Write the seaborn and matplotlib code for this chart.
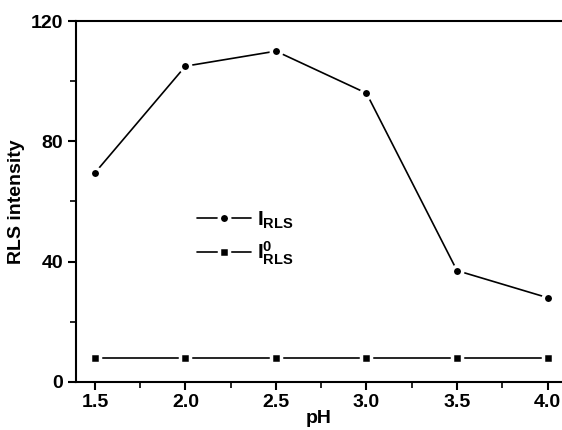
import numpy as np
import pandas as pd
import seaborn as sns
import matplotlib.pyplot as plt
from matplotlib.ticker import MultipleLocator

ph = [1.5, 2.0, 2.5, 3.0, 3.5, 4.0]
i_rls = [69.5, 105, 110, 96, 37, 28]
i0_rls = [8, 8, 8, 8, 8, 8]

df = pd.DataFrame({'pH': ph, 'IRLS': i_rls, 'I0RLS': i0_rls})

sns.set_style('ticks')
plt.rcParams['font.family'] = ['Liberation Sans', 'DejaVu Sans']
plt.rcParams['font.weight'] = 'bold'
plt.rcParams['text.color'] = 'black'
plt.rcParams['axes.labelcolor'] = 'black'
plt.rcParams['xtick.color'] = 'black'
plt.rcParams['ytick.color'] = 'black'
plt.rcParams['mathtext.fontset'] = 'custom'
plt.rcParams['mathtext.rm'] = 'Liberation Sans:bold'
plt.rcParams['mathtext.it'] = 'Liberation Sans:bold'
plt.rcParams['mathtext.bf'] = 'Liberation Sans:bold'

fig = plt.figure(figsize=(5.62, 4.30), dpi=100)
ax = fig.add_axes([0.135, 0.112, 0.865, 0.839])

sns.lineplot(data=df, x='pH', y='IRLS', ax=ax, color='black', lw=1.2,
             marker='o', ms=7.5, mec='white', mew=2.5, label=r'$\mathrm{I_{RLS}}$')
sns.lineplot(data=df, x='pH', y='I0RLS', ax=ax, color='black', lw=1.2,
             marker='s', ms=7.5, mec='white', mew=2.5, label=r'$\mathrm{I^0_{RLS}}$')

ax.set_xlim(1.395, 4.08)
ax.set_ylim(0, 120)
ax.xaxis.set_major_locator(MultipleLocator(0.5))
ax.xaxis.set_minor_locator(MultipleLocator(0.25))
ax.yaxis.set_major_locator(MultipleLocator(40))
ax.yaxis.set_minor_locator(MultipleLocator(20))
ax.tick_params(which='major', direction='out', length=6, width=1.5, labelsize=14, pad=3)
ax.tick_params(which='minor', direction='out', length=4, width=1.2)
ax.set_xticklabels([f'{v:.1f}' for v in ax.get_xticks()], fontweight='bold')
for lab in ax.get_yticklabels():
    lab.set_fontweight('bold')

for s in ['left', 'bottom', 'top']:
    ax.spines[s].set_linewidth(1.5)
    ax.spines[s].set_color('black')
ax.spines['right'].set_visible(False)

ax.set_xlabel('pH', fontsize=14, fontweight='bold', labelpad=-1)
ax.set_ylabel('RLS intensity', fontsize=14, fontweight='bold', labelpad=4)

leg = ax.legend(loc='upper left', bbox_to_anchor=(0.21, 0.53), frameon=False,
                fontsize=15, handlelength=2.6, labelspacing=0.45, handletextpad=0.3)

fig.savefig('out.png', dpi=100)
